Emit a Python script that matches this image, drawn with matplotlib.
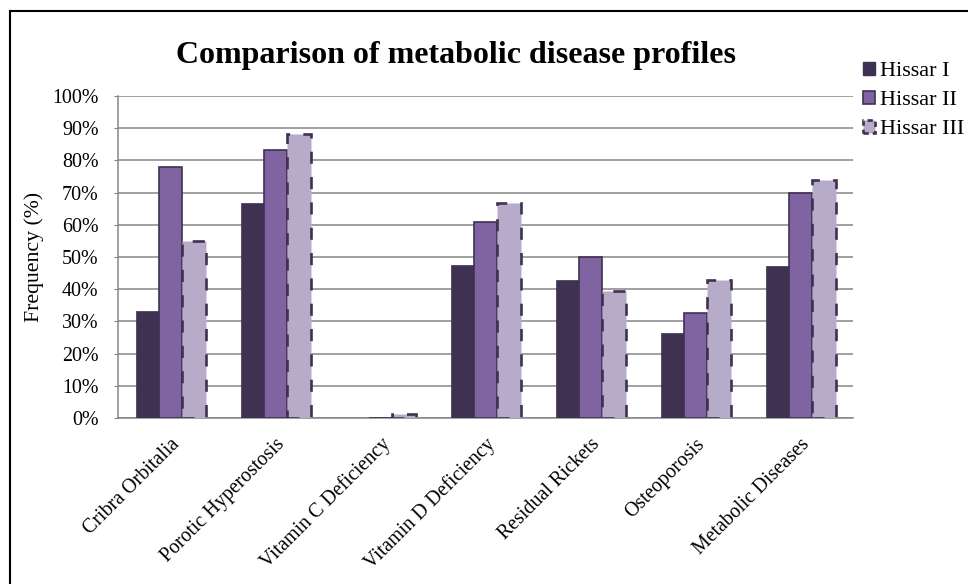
import matplotlib
matplotlib.use("Agg")
import matplotlib.pyplot as plt
import numpy as np
from matplotlib.lines import Line2D
from matplotlib.patches import Patch

categories = ["Cribra Orbitalia", "Porotic Hyperostosis", "Vitamin C Deficiency",
              "Vitamin D Deficiency", "Residual Rickets", "Osteoporosis", "Metabolic Diseases"]
series_names = ["Hissar I", "Hissar II", "Hissar III"]
hissar1 = [33.3, 66.7, 0.0, 47.6, 42.9, 26.3, 47.3]
hissar2 = [77.8, 83.3, 0.0, 60.9, 50.0, 32.6, 69.8]
hissar3 = [55.0, 88.2, 1.2, 66.7, 39.3, 42.9, 73.8]
yticks = [0, 10, 20, 30, 40, 50, 60, 70, 80, 90, 100]
ytick_labels = ["0%", "10%", "20%", "30%", "40%", "50%", "60%", "70%", "80%", "90%", "100%"]

plt.rcParams['font.family'] = ['Liberation Serif', 'DejaVu Serif']

W, H = 968, 584
fig = plt.figure(figsize=(W/100, H/100), dpi=100)
ax = fig.add_axes([118/W, (H-418)/H, 735/W, 322/H])

c1, c2, c3 = "#3F3151", "#8064A2", "#B7ABCA"
edge = "#3F3151"
x = np.arange(len(categories))
bw = 1/4.5

ax.bar(x - bw, hissar1, bw, color=c1, edgecolor=c1, linewidth=0.5, zorder=3)
ax.bar(x, hissar2, bw, color=c2, edgecolor=edge, linewidth=1.2, zorder=3)
ax.bar(x + bw, hissar3, bw, color=c3, edgecolor=edge, linewidth=1.9,
       linestyle=(0, (4.6, 5.0)), zorder=4)

ax.set_xlim(-0.5, len(categories) - 0.5)
ax.set_ylim(0, 100)
ax.set_yticks(yticks)
ax.set_yticklabels(ytick_labels, fontsize=14.4)
ax.yaxis.grid(True, color="#868686", linewidth=1.1, zorder=0)
ax.set_axisbelow(True)
for s in ["top", "right"]:
    ax.spines[s].set_visible(False)
for s in ["left", "bottom"]:
    ax.spines[s].set_color("#868686")
    ax.spines[s].set_linewidth(1.1)
ax.tick_params(axis="y", length=3, color="#868686", pad=11)
ax.tick_params(axis="x", length=0, pad=12)
ax.set_xticks(x)
ax.set_xticklabels(categories, rotation=45, ha="right", va="top",
                   rotation_mode="anchor", fontsize=14.3)
ax.set_ylabel("Frequency (%)", fontsize=15.7, labelpad=6)

fig.text(456/W, 1 - 55/H, "Comparison of metabolic disease profiles",
         ha="center", va="center", fontsize=23, fontweight="bold")

handles = [Patch(facecolor=c1, edgecolor=c1),
           Patch(facecolor=c2, edgecolor=edge, linewidth=1.2),
           Patch(facecolor=c3, edgecolor=edge, linewidth=1.9, linestyle=(0, (2, 1.5)))]
fig.legend(handles, series_names, loc="upper left", bbox_to_anchor=(854/W, 1 - 53/H),
           frameon=False, fontsize=16, handlelength=0.55, handleheight=0.55,
           handletextpad=0.2, labelspacing=0.42, borderaxespad=0)

# outer frame (left and top edges visible)
fig.add_artist(Line2D([9.5/W, 9.5/W], [-0.1, 1 - 11/H], transform=fig.transFigure,
                      color="black", linewidth=1.5))
fig.add_artist(Line2D([9.5/W, 1.1], [1 - 11/H, 1 - 11/H], transform=fig.transFigure,
                      color="black", linewidth=1.5))

fig.savefig("out.png", dpi=100, facecolor="white")
